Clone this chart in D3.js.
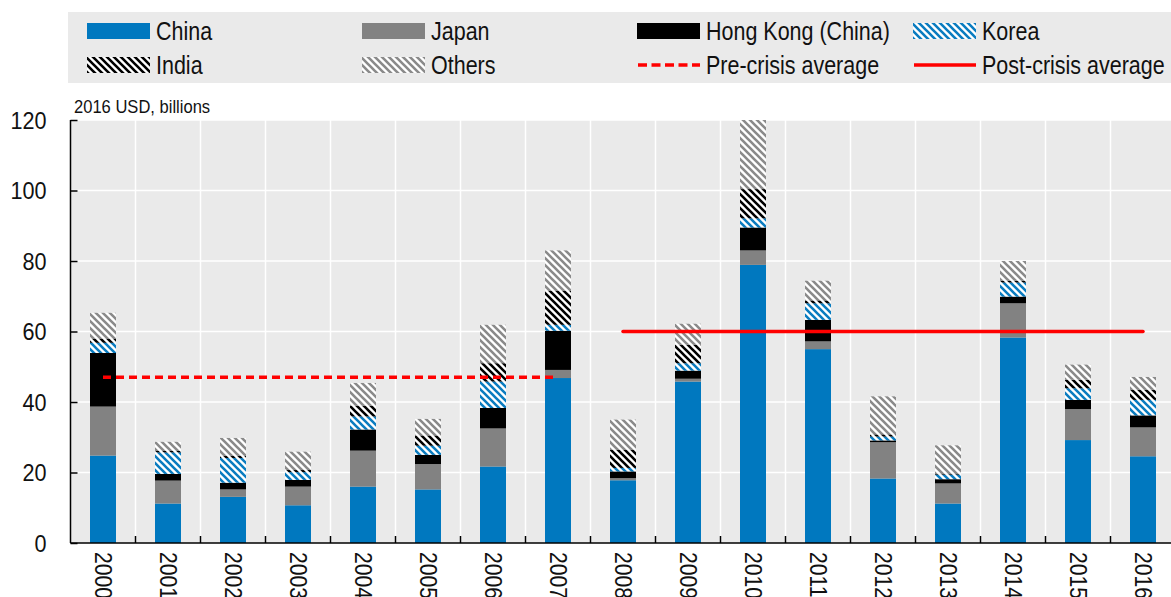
<!DOCTYPE html>
<html>
<head>
<meta charset="utf-8">
<script src="https://cdn.jsdelivr.net/npm/d3@7"></script>
<style>
  body { margin: 0; background: #fff; }
  svg text { font-family: "Liberation Sans Narrow", "Arial Narrow", "Liberation Sans", sans-serif; }
</style>
</head>
<body>
<div id="chart"></div>
<script>
// years on the x axis
const years = ["2000","2001","2002","2003","2004","2005","2006","2007","2008",
               "2009","2010","2011","2012","2013","2014","2015","2016"];

// series, 2016 USD billions
const china    = [24.8, 11.2, 13.1, 10.7, 16.0, 15.2, 21.7, 46.8, 17.8, 45.8, 78.9, 55.0, 18.3, 11.2, 58.3, 29.2, 24.6];
const japan    = [13.9,  6.5,  2.1,  5.3, 10.2,  7.2, 10.8,  2.3,  0.6,  0.8,  4.1,  2.2, 10.3,  5.7,  9.7,  8.8,  8.2];
const hongKong = [15.2,  1.9,  1.9,  1.9,  6.0,  2.6,  5.8, 11.1,  1.9,  2.3,  6.5,  6.1,  0.5,  1.2,  1.9,  2.6,  3.4];
const korea    = [ 2.9,  6.1,  7.0,  2.2,  3.7,  2.6,  7.5,  1.7,  1.0,  2.1,  2.6,  4.7,  1.1,  1.3,  4.0,  3.3,  4.4];
const india    = [ 1.2,  0.4,  0.6,  0.6,  3.0,  2.9,  5.2,  9.7,  5.2,  5.2,  8.3,  0.8,  0.6,  0.3,  0.5,  2.4,  2.9];
const others   = [ 7.3,  2.6,  5.1,  5.2,  6.5,  4.7, 10.9, 11.4,  8.5,  6.0, 19.6,  5.6, 10.8,  8.0,  5.6,  4.3,  3.6];

const seriesNames = ["China", "Japan", "Hong Kong (China)", "Korea", "India", "Others"];
const yTicks = [0, 20, 40, 60, 80, 100, 120];

// averages: [from year, to year, value]
const preCrisis  = ["2000", "2007", 47.0];
const postCrisis = ["2008", "2016", 60.0];

const width = 1171, height = 597;
const margin = { left: 70.5, top: 120, bottom: 54 };
const plotRight = margin.left + 65 * years.length;
const plotBottom = height - margin.bottom;

const svg = d3.select("#chart").append("svg")
    .attr("width", width)
    .attr("height", height);

// patterns for the hatched series
const defs = svg.append("defs");
function hatch(id, color) {
    const p = defs.append("pattern")
        .attr("id", id)
        .attr("patternUnits", "userSpaceOnUse")
        .attr("width", 7).attr("height", 7);
    p.append("rect").attr("width", 7).attr("height", 7).attr("fill", "#fff");
    p.append("path")
        .attr("d", "M-1,-1 L8,8 M-1,6 L1,8 M6,-1 L8,1")
        .attr("stroke", color)
        .attr("stroke-width", 2.6);
}
hatch("pat-korea", "#0a7cc0");
hatch("pat-india", "#000");
hatch("pat-others", "#8a8a8a");

const fills = ["#0078bf", "#828282", "#000000", "url(#pat-korea)", "url(#pat-india)", "url(#pat-others)"];

const x = d3.scaleBand()
    .domain(years)
    .range([margin.left, plotRight])
    .paddingInner(0.6)
    .paddingOuter(0.3);

const y = d3.scaleLinear()
    .domain([0, 120])
    .range([plotBottom, margin.top]);

// plot background + grid
svg.append("rect")
    .attr("x", margin.left).attr("y", margin.top)
    .attr("width", plotRight - margin.left)
    .attr("height", plotBottom - margin.top)
    .attr("fill", "#eaeaea");

svg.append("g").selectAll("line")
    .data(years.slice(1))
    .join("line")
    .attr("x1", d => x(d) - x.bandwidth() * 0.75)
    .attr("x2", d => x(d) - x.bandwidth() * 0.75)
    .attr("y1", margin.top).attr("y2", plotBottom)
    .attr("stroke", "#fff").attr("stroke-width", 1.5);

svg.append("g").selectAll("line")
    .data(yTicks.slice(1))
    .join("line")
    .attr("x1", margin.left).attr("x2", plotRight)
    .attr("y1", d => y(d)).attr("y2", d => y(d))
    .attr("stroke", "#fff").attr("stroke-width", 1.5);

// stacked bars
const table = years.map((yr, i) => ({
    year: yr,
    "China": china[i], "Japan": japan[i], "Hong Kong (China)": hongKong[i],
    "Korea": korea[i], "India": india[i], "Others": others[i]
}));
const stacked = d3.stack().keys(seriesNames)(table);

svg.append("g").selectAll("g")
    .data(stacked)
    .join("g")
    .attr("fill", (d, i) => fills[i])
    .selectAll("rect")
    .data(d => d)
    .join("rect")
    .attr("x", d => x(d.data.year))
    .attr("width", x.bandwidth())
    .attr("y", d => y(Math.min(d[1], 120)))
    .attr("height", d => y(d[0]) - y(Math.min(d[1], 120)));

// average lines
const lineG = svg.append("g");
lineG.append("line")
    .attr("x1", x(preCrisis[0]) + x.bandwidth() / 2)
    .attr("x2", x(preCrisis[1]) + x.bandwidth() / 2)
    .attr("y1", y(preCrisis[2])).attr("y2", y(preCrisis[2]))
    .attr("stroke", "#ff0000").attr("stroke-width", 3.5)
    .attr("stroke-dasharray", "8,5");
lineG.append("line")
    .attr("x1", x(postCrisis[0]) + x.bandwidth() / 2)
    .attr("x2", x(postCrisis[1]) + x.bandwidth() / 2)
    .attr("y1", y(postCrisis[2])).attr("y2", y(postCrisis[2]))
    .attr("stroke", "#ff0000").attr("stroke-width", 3.5)
    .attr("stroke-linecap", "round");

// y axis
const yAxis = svg.append("g")
    .attr("transform", `translate(${margin.left},0)`)
    .call(d3.axisLeft(y).tickValues(yTicks).tickSize(-7));
yAxis.select(".domain").attr("stroke", "#000").attr("stroke-width", 1.5).attr("d", `M0,${margin.top}V${plotBottom}`);
yAxis.selectAll(".tick line").attr("stroke", "#000").attr("stroke-width", 1.5);
yAxis.selectAll(".tick text")
    .attr("font-size", 24).attr("fill", "#111")
    .attr("text-anchor", "end")
    .attr("x", -24 / 0.9).attr("dy", "0.35em")
    .attr("transform", "scale(0.9,1)");

// x axis
const xAxis = svg.append("g")
    .attr("transform", `translate(0,${plotBottom})`)
    .call(d3.axisBottom(x).tickSize(0).tickPadding(0));
xAxis.select(".domain").attr("stroke", "#000").attr("stroke-width", 1.5).attr("d", `M${margin.left},0H${plotRight}`);
xAxis.selectAll(".tick text")
    .attr("font-size", 24).attr("fill", "#111")
    .attr("text-anchor", "start")
    .attr("transform", "translate(0,9) rotate(90) scale(0.88,1)")
    .attr("dy", "0.35em").attr("y", 0);

svg.append("g").selectAll("line")
    .data(years.slice(1))
    .join("line")
    .attr("x1", d => x(d) - x.bandwidth() * 0.75)
    .attr("x2", d => x(d) - x.bandwidth() * 0.75)
    .attr("y1", plotBottom).attr("y2", plotBottom - 7)
    .attr("stroke", "#000").attr("stroke-width", 1.5);

// unit label
svg.append("text")
    .attr("transform", "translate(74,113) scale(0.92,1)")
    .attr("font-size", 18).attr("fill", "#111")
    .text("2016 USD, billions");

// legend
svg.append("rect")
    .attr("x", 68).attr("y", 12)
    .attr("width", width - 68).attr("height", 71)
    .attr("fill", "#eaeaea");

const legendItems = [
    { name: "China", fill: fills[0], col: 0, row: 0 },
    { name: "Japan", fill: fills[1], col: 1, row: 0 },
    { name: "Hong Kong (China)", fill: fills[2], col: 2, row: 0 },
    { name: "Korea", fill: fills[3], col: 3, row: 0 },
    { name: "India", fill: fills[4], col: 0, row: 1 },
    { name: "Others", fill: fills[5], col: 1, row: 1 },
    { name: "Pre-crisis average", line: "dash", col: 2, row: 1 },
    { name: "Post-crisis average", line: "solid", col: 3, row: 1 }
];
const colX = [87, 362, 637, 913];
const rowY = [31, 65];

const leg = svg.append("g").selectAll("g")
    .data(legendItems)
    .join("g")
    .attr("transform", d => `translate(${colX[d.col]},${rowY[d.row]})`);

leg.filter(d => !d.line).append("rect")
    .attr("x", 0).attr("y", -8)
    .attr("width", 63).attr("height", 16)
    .attr("fill", d => d.fill);

leg.filter(d => d.line).append("line")
    .attr("x1", 1).attr("x2", 63)
    .attr("y1", 0).attr("y2", 0)
    .attr("stroke", "#ff0000").attr("stroke-width", 3.5)
    .attr("stroke-dasharray", d => d.line === "dash" ? "9,4.5" : null);

leg.append("text")
    .attr("transform", "translate(69,0) scale(0.86,1)")
    .attr("dy", "0.35em")
    .attr("font-size", 25).attr("fill", "#111")
    .text(d => d.name);
</script>
</body>
</html>
